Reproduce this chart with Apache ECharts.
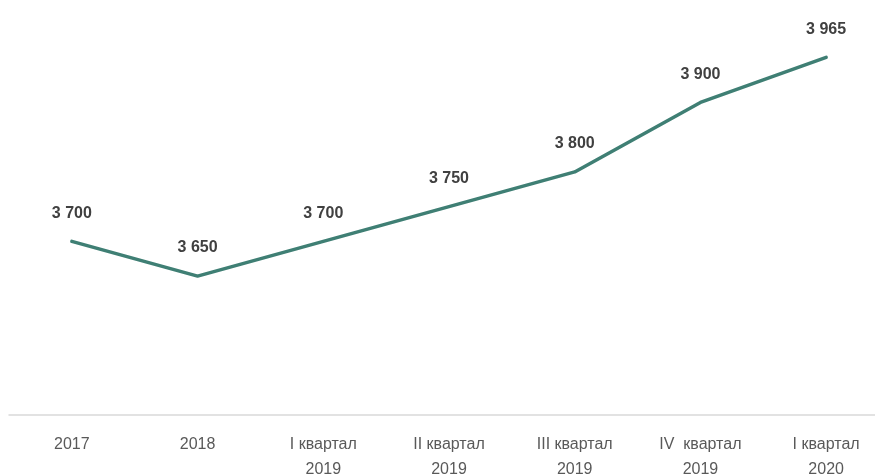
<!DOCTYPE html>
<html>
<head>
<meta charset="utf-8">
<script src="https://cdn.jsdelivr.net/npm/echarts@6/dist/echarts.min.js"></script>
<style>
  html, body { margin: 0; padding: 0; background: #fff; }
  #chart { width: 875px; height: 476px; }
</style>
</head>
<body>
<div id="chart"></div>
<script>
// categories along the bottom axis
const categories = ['2017', '2018', 'I квартал\n2019', 'II квартал\n2019', 'III квартал\n2019', 'IV  квартал\n2019', 'I квартал\n2020'];
// values of the line
const values = [3700, 3650, 3700, 3750, 3800, 3900, 3965];

// "3700" -> "3 700"
function fmt(v) {
    return String(v).replace(/\B(?=(\d{3})+(?!\d))/g, ' ');
}

const chart = echarts.init(document.getElementById('chart'));
chart.setOption({
    animation: false,
    grid: {
        left: 9,
        width: 880,
        top: 33,
        bottom: 61,
        containLabel: false,
        outerBoundsMode: 'none'
    },
    xAxis: {
        type: 'category',
        data: categories,
        boundaryGap: true,
        axisLine: { lineStyle: { color: '#d9d9d9', width: 1.5 } },
        axisTick: { show: false },
        axisLabel: {
            color: '#595959',
            fontFamily: 'Liberation Sans, Arial, sans-serif',
            fontSize: 16,
            lineHeight: 25,
            margin: 17,
            interval: 0
        }
    },
    yAxis: {
        type: 'value',
        min: 3450,
        max: 4000,
        show: false,
        splitLine: { show: false }
    },
    series: [{
        type: 'line',
        data: values,
        smooth: false,
        symbol: 'circle',
        symbolSize: 2,
        showSymbol: true,
        itemStyle: { color: '#3f7f74' },
        lineStyle: { color: '#3f7f74', width: 3.5, join: 'round', cap: 'round' },
        label: {
            show: true,
            position: 'top',
            distance: 19,
            color: '#404040',
            fontWeight: 'bold',
            fontSize: 16,
            fontFamily: 'Liberation Sans, Arial, sans-serif',
            formatter: p => fmt(p.value)
        }
    }]
});
</script>
</body>
</html>
